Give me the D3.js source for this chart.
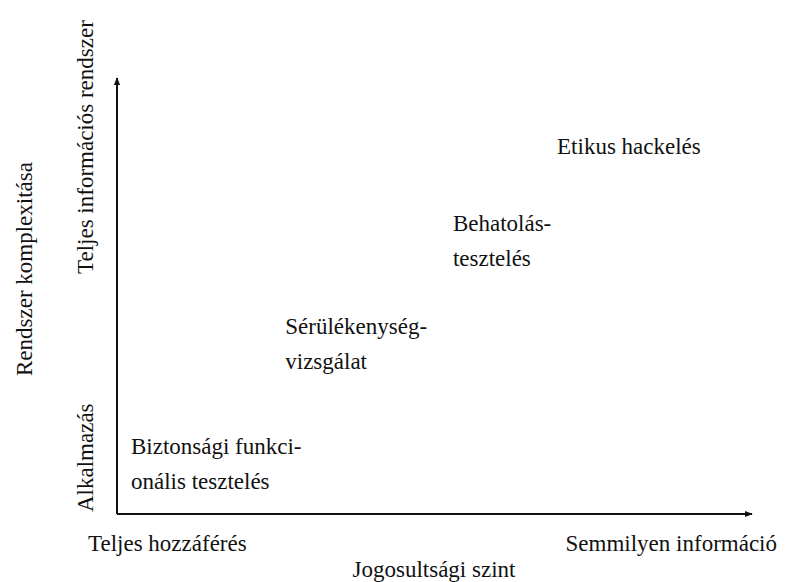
<!DOCTYPE html>
<html>
<head>
<meta charset="utf-8">
<script src="https://cdn.jsdelivr.net/npm/d3@7"></script>
<style>
  body { margin: 0; background: #fff; }
</style>
</head>
<body>
<div id="chart"></div>
<script>
// methods placed on the two axes (0..10 scale)
const methods = [
  ['Biztonsági funkci-', 'onális tesztelés'],
  ['Sérülékenység-', 'vizsgálat'],
  ['Behatolás-', 'tesztelés'],
  ['Etikus hackelés']
]
const accessLevel = [0.22, 2.65, 5.29, 6.93]
const complexity = [1.51, 4.27, 6.63, 8.39]

const xEnds = ['Teljes hozzáférés', 'Semmilyen információ']
const yEnds = ['Alkalmazás', 'Teljes információs rendszer']
const xTitle = 'Jogosultsági szint'
const yTitle = 'Rendszer komplexitása'

const width = 790
const height = 582
const origin = { x: 117, y: 514 }
const serif = 'Liberation Serif'

const svg = d3
  .select('#chart')
  .append('svg')
  .attr('width', width)
  .attr('height', height)

const xPositionScale = d3.scaleLinear().domain([0, 10]).range([origin.x, 752])
const yPositionScale = d3.scaleLinear().domain([0, 10]).range([origin.y, 78])

const defs = svg.append('defs')
defs
  .append('marker')
  .attr('id', 'arrow')
  .attr('viewBox', '0 0 10 10')
  .attr('refX', 9)
  .attr('refY', 5)
  .attr('markerWidth', 8)
  .attr('markerHeight', 8)
  .attr('markerUnits', 'userSpaceOnUse')
  .attr('orient', 'auto')
  .append('path')
  .attr('d', 'M0,1 L10,5 L0,9 Z')
  .attr('fill', '#111')

// axes
svg
  .append('line')
  .attr('x1', xPositionScale(0))
  .attr('y1', yPositionScale(0))
  .attr('x2', xPositionScale(10))
  .attr('y2', yPositionScale(0))
  .attr('stroke', '#111')
  .attr('stroke-width', 2)
  .attr('marker-end', 'url(#arrow)')

svg
  .append('line')
  .attr('x1', xPositionScale(0))
  .attr('y1', yPositionScale(0))
  .attr('x2', xPositionScale(0))
  .attr('y2', yPositionScale(10))
  .attr('stroke', '#111')
  .attr('stroke-width', 2)
  .attr('marker-end', 'url(#arrow)')

const fontSize = 23

// letter-spacing makes the renderer drop the serif face, so size only
function label(sel) {
  return sel
    .attr('font-family', serif)
    .attr('font-size', fontSize)
    .attr('fill', '#111')
}

// x axis end labels
svg
  .append('text')
  .call(label)
  .attr('x', xPositionScale(0) - 29)
  .attr('y', 551)
  .text(xEnds[0])

svg
  .append('text')
  .call(label)
  .attr('x', 777)
  .attr('y', 551)
  .attr('text-anchor', 'end')
  .text(xEnds[1])

svg
  .append('text')
  .call(label)
  .attr('x', 434)
  .attr('y', 577)
  .attr('text-anchor', 'middle')
  .text(xTitle)

// y axis end labels (rotated)
svg
  .append('text')
  .call(label)
  .attr('transform', 'translate(93,' + (yPositionScale(0) - 2) + ') rotate(-90)')
  .text(yEnds[0])

svg
  .append('text')
  .call(label)
  .attr('transform', 'translate(93,274) rotate(-90)')
  .text(yEnds[1])

svg
  .append('text')
  .call(label)
  .attr('transform', 'translate(32,269) rotate(-90)')
  .attr('text-anchor', 'middle')
  .text(yTitle)

// method labels
const labels = svg
  .selectAll('.method')
  .data(methods)
  .enter()
  .append('text')
  .attr('class', 'method')
  .call(label)
  .attr('x', (d, i) => xPositionScale(accessLevel[i]))
  .attr('y', (d, i) => yPositionScale(complexity[i]) + 6)

labels
  .selectAll('tspan')
  .data(d => d)
  .enter()
  .append('tspan')
  .attr('x', function() {
    return d3.select(this.parentNode).attr('x')
  })
  .attr('dy', (d, i) => (i === 0 ? 0 : 35))
  .text(d => d)
</script>
</body>
</html>
